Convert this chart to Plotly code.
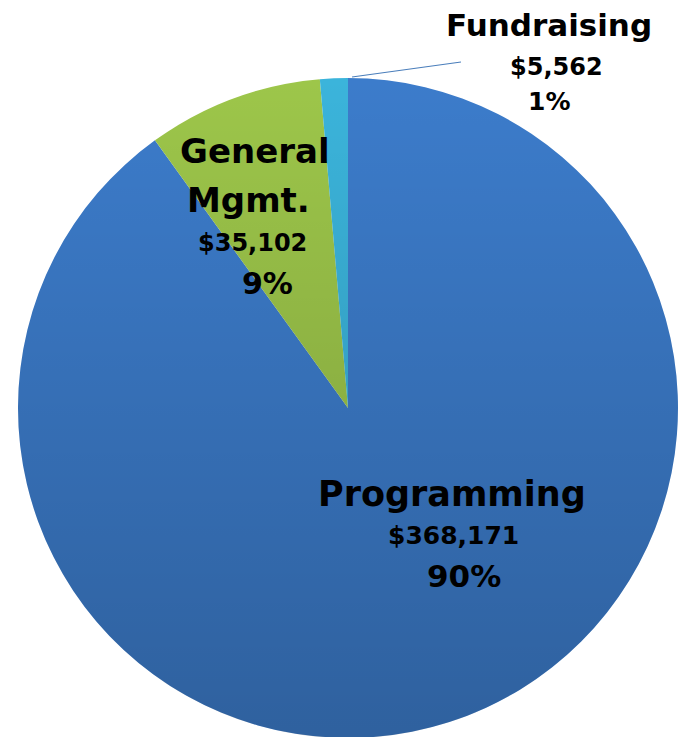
import base64
import plotly.graph_objects as go

W, H = 695, 737
OFF = 8  # page body margin offset

categories = ["Programming", "General Mgmt.", "Fundraising"]
label_lines = [["Programming"], ["General", "Mgmt."], ["Fundraising"]]
values = [368171, 35102, 5562]
colors = ["#3c7ccb", "#9dc64a", "#3bb4db"]

total = sum(values)
pcts = [round(v / total * 100) for v in values]

# pie geometry in page pixels
cx, cy, r = 348 - OFF, 408 - OFF, 330


def px_x(x):
    return (x - OFF) / W


def px_y(y):
    return 1 - (y - OFF) / H


fig = go.Figure(go.Pie(
    labels=categories,
    values=values,
    sort=False,
    direction="clockwise",
    rotation=0,
    marker=dict(colors=colors, line=dict(width=0)),
    textinfo="none",
    hoverinfo="label+value+percent",
    showlegend=False,
    domain=dict(x=[(cx - r) / W, (cx + r) / W],
                y=[max(0, (H - cy - r) / H), (H - cy + r) / H]),
))

# vertical shading overlay (light top -> darker bottom) like the reference
svg = ("<svg xmlns='http://www.w3.org/2000/svg' viewBox='0 0 100 100' preserveAspectRatio='none'>"
       "<defs><linearGradient id='g' x1='0' y1='0' x2='0' y2='1'>"
       "<stop offset='0' stop-color='#000' stop-opacity='0'/>"
       "<stop offset='1' stop-color='#000' stop-opacity='0.22'/>"
       "</linearGradient></defs><circle cx='50' cy='50' r='50' fill='url(#g)'/></svg>")
src = "data:image/svg+xml;base64," + base64.b64encode(svg.encode()).decode()

# label layout (page-pixel centers per line) and font sizes
label_pos = [
    dict(lines=[(452, 494)], val=(453, 535), pct=(464, 576), fs=35, vfs=25, pfs=31),
    dict(lines=[(255, 151), (249, 200)], val=(253, 243), pct=(267, 283), fs=34, vfs=24, pfs=30),
    dict(lines=[(549, 25)], val=(556, 67), pct=(549, 102), fs=31, vfs=24, pfs=25),
]

font_family = "DejaVu Sans"
annotations = []
for i, lp in enumerate(label_pos):
    for txt, (px, py) in zip(label_lines[i], lp["lines"]):
        annotations.append(dict(x=px_x(px), y=px_y(py), xref="paper", yref="paper",
                                text=f"<b>{txt}</b>", showarrow=False,
                                xanchor="center", yanchor="middle",
                                font=dict(family=font_family, size=lp["fs"], color="#000000")))
    px, py = lp["val"]
    annotations.append(dict(x=px_x(px), y=px_y(py), xref="paper", yref="paper",
                            text=f"<b>${values[i]:,}</b>", showarrow=False,
                            xanchor="center", yanchor="middle",
                            font=dict(family=font_family, size=lp["vfs"], color="#000000")))
    px, py = lp["pct"]
    annotations.append(dict(x=px_x(px), y=px_y(py), xref="paper", yref="paper",
                            text=f"<b>{pcts[i]}%</b>", showarrow=False,
                            xanchor="center", yanchor="middle",
                            font=dict(family=font_family, size=lp["pfs"], color="#000000")))

# leader line for Fundraising
shapes = [dict(type="line", xref="paper", yref="paper",
               x0=px_x(352), y0=px_y(77), x1=px_x(461), y1=px_y(62),
               line=dict(color="#4a7ebb", width=1.2))]

fig.update_layout(
    width=W, height=H,
    margin=dict(l=0, r=0, t=0, b=0),
    paper_bgcolor="#ffffff",
    plot_bgcolor="#ffffff",
    annotations=annotations,
    shapes=shapes,
    images=[dict(source=src, xref="paper", yref="paper",
                 x=(cx - r) / W, y=1 - (cy - r) / H,
                 sizex=2 * r / W, sizey=2 * r / H,
                 xanchor="left", yanchor="top", sizing="stretch", layer="above")],
)

fig.write_html("out.html")
